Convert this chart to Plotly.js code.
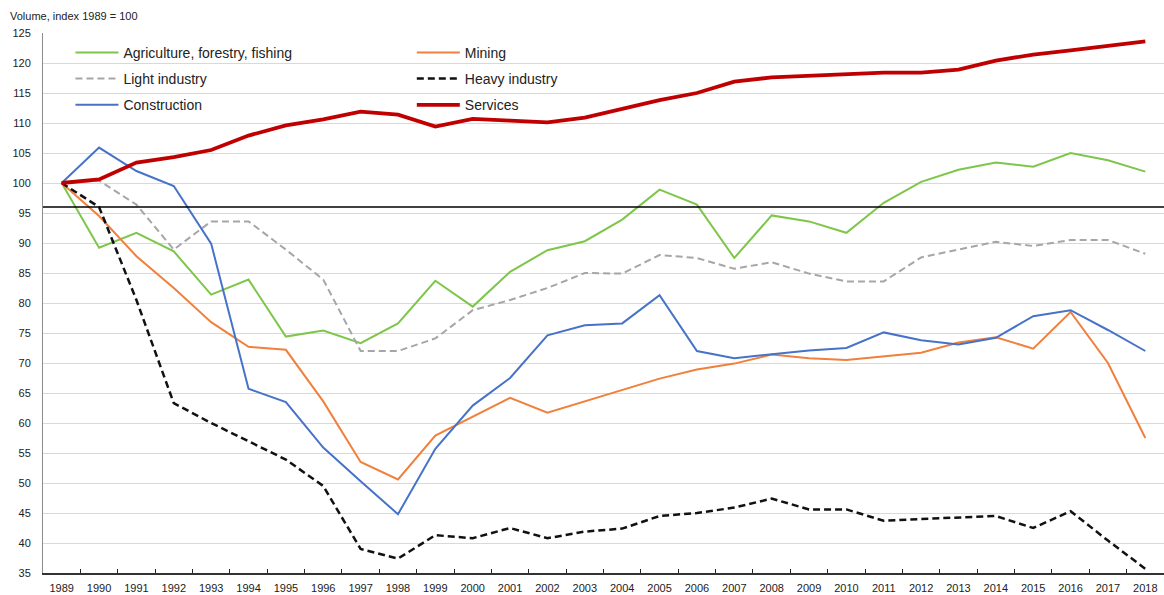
<!DOCTYPE html>
<html>
<head>
<meta charset="utf-8">
<script src="https://cdn.plot.ly/plotly-3.0.1.min.js"></script>
<style>
  html, body { margin: 0; padding: 0; background: #fff; }
  #chart { width: 1164px; height: 595px; }
</style>
</head>
<body>
<div id="chart"></div>
<script>
const years = ['1989','1990','1991','1992','1993','1994','1995','1996','1997','1998','1999','2000','2001','2002','2003','2004','2005','2006','2007','2008','2009','2010','2011','2012','2013','2014','2015','2016','2017','2018'];

const agriculture = [100, 89.2, 91.7, 88.6, 81.4, 83.9, 74.4, 75.4, 73.3, 76.6, 83.7, 79.4, 85.2, 88.8, 90.3, 93.9, 98.9, 96.4, 87.5, 94.6, 93.6, 91.7, 96.7, 100.2, 102.2, 103.4, 102.7, 105.0, 103.8, 101.9];
const mining = [100, 94.5, 87.8, 82.5, 76.8, 72.7, 72.2, 63.6, 53.5, 50.6, 57.9, 61.1, 64.2, 61.7, 63.6, 65.5, 67.4, 68.9, 69.9, 71.4, 70.8, 70.5, 71.1, 71.7, 73.4, 74.3, 72.4, 78.5, 70.0, 57.5];
const lightIndustry = [100, 100.4, 96.4, 88.9, 93.6, 93.6, 88.9, 83.9, 72.0, 72.0, 74.1, 78.8, 80.5, 82.5, 85.0, 84.9, 88.0, 87.5, 85.7, 86.8, 84.9, 83.6, 83.6, 87.6, 88.9, 90.2, 89.5, 90.5, 90.5, 88.2];
const heavyIndustry = [100, 96.0, 80.5, 63.3, 60.0, 57.0, 53.9, 49.5, 39.0, 37.4, 41.3, 40.8, 42.5, 40.8, 41.9, 42.4, 44.5, 45.0, 45.9, 47.4, 45.6, 45.6, 43.7, 44.0, 44.3, 44.5, 42.5, 45.3, 40.4, 35.7];
const construction = [100, 105.9, 102.0, 99.5, 89.9, 65.7, 63.5, 55.9, 50.3, 44.8, 55.7, 62.9, 67.5, 74.6, 76.3, 76.6, 81.3, 72.0, 70.8, 71.5, 72.1, 72.5, 75.1, 73.8, 73.1, 74.2, 77.8, 78.8, 75.5, 72.0];
const services = [100, 100.6, 103.4, 104.3, 105.5, 107.9, 109.6, 110.6, 111.9, 111.4, 109.4, 110.7, 110.4, 110.1, 110.9, 112.4, 113.8, 115.0, 116.9, 117.6, 117.9, 118.2, 118.4, 118.4, 118.9, 120.4, 121.4, 122.1, 122.9, 123.6];
const referenceLevel = 96;
const yTickVals = [35,40,45,50,55,60,65,70,75,80,85,90,95,100,105,110,115,120,125];

const FONT = 'Liberation Sans, Arial, sans-serif';

function tr(name, y, color, width, dash, legend, rank) {
  return {
    type: 'scatter', mode: 'lines', name: name, x: years, y: y,
    line: { color: color, width: width, dash: dash },
    legend: legend, legendrank: rank, legendgroup: name,
    hoverinfo: 'x+y+name'
  };
}

const data = [
  tr('Agriculture, forestry, fishing', agriculture, '#7ec64a', 2, 'solid', 'legend', 1),
  tr('Mining', mining, '#f0803c', 2, 'solid', 'legend2', 1),
  tr('Light industry', lightIndustry, '#a6a6a6', 2, '7px,4px', 'legend', 2),
  tr('Heavy industry', heavyIndustry, '#111111', 2.5, '7px,4px', 'legend2', 2),
  tr('Construction', construction, '#4673c8', 2, 'solid', 'legend', 3),
  tr('Services', services, '#c00000', 3.8, 'solid', 'legend2', 3)
];

const legendCommon = {
  bgcolor: 'rgba(255,255,255,0)', borderwidth: 0,
  font: { family: FONT, size: 14, color: '#222' },
  itemwidth: 43, tracegroupgap: 5, yanchor: 'top', xanchor: 'left', y: 0.993
};

const layout = {
  width: 1164, height: 595,
  margin: { l: 43, r: 0, t: 33, b: 22, pad: 0 },
  paper_bgcolor: '#fff', plot_bgcolor: '#fff',
  font: { family: FONT, size: 11, color: '#222' },
  showlegend: true,
  legend: Object.assign({}, legendCommon, { x: 0.0245 }),
  legend2: Object.assign({}, legendCommon, { x: 0.329 }),
  xaxis: {
    type: 'category', categoryorder: 'array', categoryarray: years,
    range: [-0.5, years.length - 0.5],
    tickson: 'boundaries', ticks: 'inside', ticklen: 4, tickwidth: 1, tickcolor: '#222',
    showline: true, linecolor: '#333', linewidth: 1.5,
    showgrid: false, zeroline: false, fixedrange: true,
    tickfont: { family: FONT, size: 11, color: '#222' },
    ticklabelstandoff: 4
  },
  yaxis: {
    range: [35, 125], tickmode: 'array', tickvals: yTickVals,
    showgrid: true, gridcolor: '#d9d9d9', gridwidth: 1,
    showline: true, linecolor: '#8c8c8c', linewidth: 1,
    zeroline: false, ticks: '', fixedrange: true,
    tickfont: { family: FONT, size: 11, color: '#222' },
    ticklabelstandoff: 9
  },
  shapes: [{
    type: 'line', xref: 'paper', x0: 0, x1: 1, yref: 'y', y0: referenceLevel, y1: referenceLevel,
    line: { color: '#000', width: 1.3 }, layer: 'above'
  }],
  annotations: [{
    text: 'Volume, index 1989 = 100', xref: 'paper', yref: 'paper', x: 0, y: 1,
    xanchor: 'left', yanchor: 'middle', xshift: -35, yshift: 17, showarrow: false,
    font: { family: FONT, size: 11, color: '#222' }
  }]
};

Plotly.newPlot('chart', data, layout, { displayModeBar: false, staticPlot: true });
</script>
</body>
</html>
